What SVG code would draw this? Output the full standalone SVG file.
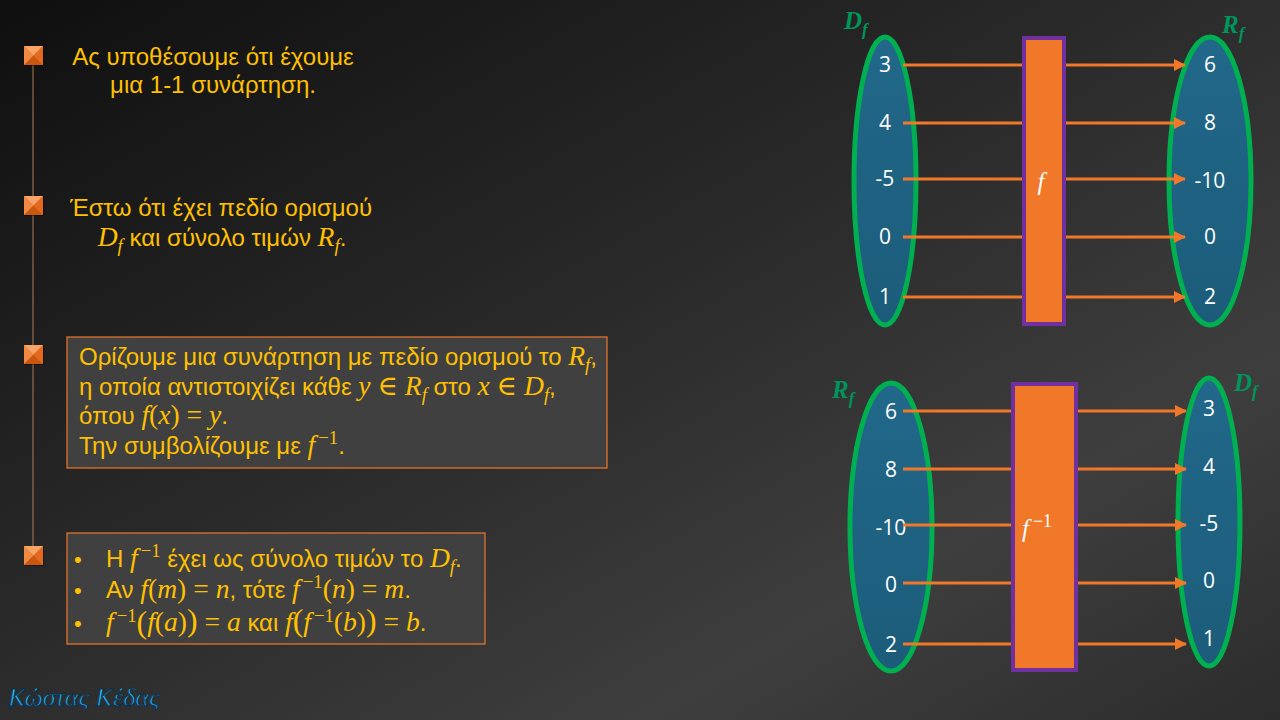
<svg xmlns="http://www.w3.org/2000/svg" width="1280" height="720" viewBox="0 0 1280 720">
<defs>
<linearGradient id="bg" x1="0" y1="0" x2="1" y2="1">
<stop offset="0" stop-color="#0f0f0f"/>
<stop offset="0.45" stop-color="#2a2a2a"/>
<stop offset="0.75" stop-color="#3e3e3e"/>
<stop offset="1" stop-color="#2c2c2c"/>
</linearGradient>
<linearGradient id="ell" x1="0" y1="0" x2="0" y2="1">
<stop offset="0" stop-color="#21688a"/>
<stop offset="1" stop-color="#1c5c7a"/>
</linearGradient>
<linearGradient id="sig" x1="0" y1="0" x2="0" y2="1">
<stop offset="0" stop-color="#40e0f0"/>
<stop offset="1" stop-color="#1a80e0"/>
</linearGradient>
<marker id="arr" markerWidth="12" markerHeight="12" refX="11" refY="6" orient="auto" markerUnits="userSpaceOnUse">
<path d="M0,0 L12,6 L0,12 Z" fill="#f07828"/>
</marker>
<g id="bul">
<rect x="1" y="1" width="19" height="19" fill="#000" opacity="0.35"/>
<rect x="0" y="0" width="19" height="19" fill="#ee7a30"/>
<polygon points="0,0 19,0 9.5,9.5" fill="#f7a468"/>
<polygon points="0,0 9.5,9.5 0,19" fill="#f08a42"/>
<polygon points="19,0 19,19 9.5,9.5" fill="#e2691e"/>
<polygon points="0,19 19,19 9.5,9.5" fill="#c9570f"/>
</g>
</defs>
<style>
.t{font-family:"Liberation Sans","Noto Sans",sans-serif;fill:#ffc000}
.m{font-family:"Liberation Serif","DejaVu Serif",serif;font-style:italic;font-size:115%}
.r{font-family:"Liberation Serif","DejaVu Serif",serif;font-size:115%}
.s{font-family:"Liberation Serif","DejaVu Serif",serif;font-style:italic;font-size:78%}
.p{font-family:"Liberation Serif","DejaVu Serif",serif;font-size:78%}
.b{font-family:"Liberation Serif","DejaVu Serif",serif;font-size:132%}
.n{font-family:"Open Sans","Liberation Sans",sans-serif;fill:#ffffff;font-size:21px;text-anchor:middle}
.box{fill:#404040;stroke:#f07828;stroke-width:1.2}
.ell{fill:url(#ell);stroke:#00b050;stroke-width:5}
.fx{fill:#f07828;stroke:#7030a0;stroke-width:4}
.lbl{font-family:"Liberation Serif","DejaVu Serif",serif;font-style:italic;font-weight:bold;fill:#00955a;font-size:25px}
.ln{stroke:#f07828;stroke-width:3;fill:none}
</style>
<rect width="1280" height="720" fill="url(#bg)"/>

<g id="timeline">
<line x1="33" y1="60" x2="33" y2="550" stroke="#b07a55" stroke-width="1"/>
<use href="#bul" x="24" y="46"/>
<use href="#bul" x="24" y="196"/>
<use href="#bul" x="24" y="345"/>
<use href="#bul" x="24" y="546"/>
</g>

<g id="text1">
<text class="t" font-size="24" x="213" y="65" text-anchor="middle">Ας υποθέσουμε ότι έχουμε</text>
<text class="t" font-size="24" x="213" y="93" text-anchor="middle">μια 1-1 συνάρτηση.</text>
</g>

<g id="text2">
<text class="t" font-size="24" x="221" y="216" text-anchor="middle">Έστω ότι έχει πεδίο ορισμού</text>
<text class="t" font-size="24" x="222" y="246" text-anchor="middle"><tspan class="m">D</tspan><tspan class="s" dy="6">f</tspan><tspan dy="-6"> και σύνολο τιμών </tspan><tspan class="m">R</tspan><tspan class="s" dy="6">f</tspan><tspan dy="-6">.</tspan></text>
</g>

<g id="box3">
<rect class="box" x="67" y="337" width="540" height="131"/>
<text class="t" font-size="24" x="79" y="365">Ορίζουμε μια συνάρτηση με πεδίο ορισμού το <tspan class="m">R</tspan><tspan class="s" dy="6">f</tspan><tspan dy="-6">,</tspan></text>
<text class="t" font-size="24" x="79" y="395">η οποία αντιστοιχίζει κάθε <tspan class="m">y ∈ R</tspan><tspan class="s" dy="6">f</tspan><tspan dy="-6"> στο </tspan><tspan class="m">x ∈ D</tspan><tspan class="s" dy="6">f</tspan><tspan dy="-6">,</tspan></text>
<text class="t" font-size="24" x="79" y="424">όπου <tspan class="m">f</tspan><tspan class="r">(</tspan><tspan class="m">x</tspan><tspan class="r">)  =  </tspan><tspan class="m">y</tspan>.</text>
<text class="t" font-size="24" x="79" y="454">Την συμβολίζουμε με <tspan class="m">f</tspan><tspan class="p" dx="3" dy="-10">−1</tspan><tspan dy="10">.</tspan></text>
</g>

<g id="box4">
<rect class="box" x="67" y="533" width="418" height="111"/>
<text class="t" font-size="22" x="74" y="567">•</text>
<text class="t" font-size="22" x="74" y="598">•</text>
<text class="t" font-size="22" x="74" y="631">•</text>
<text class="t" font-size="24" x="106" y="567">Η <tspan class="m">f</tspan><tspan class="p" dx="3" dy="-10">−1</tspan><tspan dy="10"> έχει ως σύνολο τιμών το </tspan><tspan class="m">D</tspan><tspan class="s" dy="6">f</tspan><tspan dy="-6">.</tspan></text>
<text class="t" font-size="24" x="106" y="598">Αν <tspan class="m">f</tspan><tspan class="r">(</tspan><tspan class="m">m</tspan><tspan class="r">)  =  </tspan><tspan class="m">n</tspan>, τότε <tspan class="m">f</tspan><tspan class="p" dx="3" dy="-10">−1</tspan><tspan class="r" dy="10">(</tspan><tspan class="m">n</tspan><tspan class="r">)  =  </tspan><tspan class="m">m</tspan>.</text>
<text class="t" font-size="24" x="106" y="631"><tspan class="m">f</tspan><tspan class="p" dx="3" dy="-9">−1</tspan><tspan class="b" dy="11">(</tspan><tspan class="m" dy="-2">f</tspan><tspan class="r">(</tspan><tspan class="m">a</tspan><tspan class="r">)</tspan><tspan class="b">)</tspan><tspan class="r">  =  </tspan><tspan class="m">a</tspan> και <tspan class="m">f</tspan><tspan class="b">(</tspan><tspan class="m">f</tspan><tspan class="p" dx="3" dy="-9">−1</tspan><tspan class="r" dy="9">(</tspan><tspan class="m">b</tspan><tspan class="r">)</tspan><tspan class="b">)</tspan><tspan class="r">  =  </tspan><tspan class="m">b</tspan>.</text>
</g>

<g id="signature">
<text x="8" y="706" font-family="Liberation Serif, serif" font-style="italic" font-size="26" fill="url(#sig)" stroke="#0b2f4a" stroke-width="0.8">Κώστας Κέδας</text>
</g>

<g id="top-domain">
<ellipse class="ell" cx="885" cy="181" rx="31" ry="144"/>
<text class="lbl" x="844" y="29">D<tspan font-size="17" dy="6">f</tspan></text>
<text class="n" x="885" y="72">3</text>
<text class="n" x="885" y="130">4</text>
<text class="n" x="885" y="186">-5</text>
<text class="n" x="885" y="244">0</text>
<text class="n" x="885" y="304">1</text>
</g>
<g id="top-f">
<rect class="fx" x="1024" y="38" width="40" height="286"/>
<text x="1041" y="190" font-family="Liberation Serif, serif" font-style="italic" font-size="25" fill="#fff" text-anchor="middle">f</text>
</g>
<g id="top-range">
<ellipse class="ell" cx="1210" cy="181" rx="41" ry="144"/>
<text class="lbl" x="1222" y="33">R<tspan font-size="17" dy="6">f</tspan></text>
<text class="n" x="1210" y="72">6</text>
<text class="n" x="1210" y="130">8</text>
<text class="n" x="1210" y="188">-10</text>
<text class="n" x="1210" y="244">0</text>
<text class="n" x="1210" y="304">2</text>
</g>

<g id="bot-domain">
<ellipse class="ell" cx="891" cy="527" rx="41" ry="144"/>
<text class="lbl" x="832" y="398">R<tspan font-size="17" dy="6">f</tspan></text>
<text class="n" x="891" y="419">6</text>
<text class="n" x="891" y="477">8</text>
<text class="n" x="891" y="535">-10</text>
<text class="n" x="891" y="592">0</text>
<text class="n" x="891" y="652">2</text>
</g>
<g id="bot-finv">
<rect class="fx" x="1013" y="384" width="63" height="286"/>
<text x="1022" y="537" font-family="Liberation Serif, serif" font-style="italic" font-size="25" fill="#fff">f<tspan font-style="normal" font-size="18" dx="4" dy="-10">−1</tspan></text>
</g>
<g id="bot-range">
<ellipse class="ell" cx="1209" cy="522" rx="31" ry="144"/>
<text class="lbl" x="1234" y="391">D<tspan font-size="17" dy="6">f</tspan></text>
<text class="n" x="1209" y="416">3</text>
<text class="n" x="1209" y="474">4</text>
<text class="n" x="1209" y="531">-5</text>
<text class="n" x="1209" y="588">0</text>
<text class="n" x="1209" y="646">1</text>
</g>

<g id="connectors">
<line class="ln" x1="903" y1="65" x2="1022" y2="65"/>
<line class="ln" x1="903" y1="123" x2="1022" y2="123"/>
<line class="ln" x1="903" y1="179" x2="1022" y2="179"/>
<line class="ln" x1="903" y1="237" x2="1022" y2="237"/>
<line class="ln" x1="903" y1="297" x2="1022" y2="297"/>
<line class="ln" x1="1066" y1="65" x2="1185" y2="65" marker-end="url(#arr)"/>
<line class="ln" x1="1066" y1="123" x2="1185" y2="123" marker-end="url(#arr)"/>
<line class="ln" x1="1066" y1="179" x2="1185" y2="179" marker-end="url(#arr)"/>
<line class="ln" x1="1066" y1="237" x2="1185" y2="237" marker-end="url(#arr)"/>
<line class="ln" x1="1066" y1="297" x2="1185" y2="297" marker-end="url(#arr)"/>
<line class="ln" x1="903" y1="411" x2="1011" y2="411"/>
<line class="ln" x1="903" y1="469" x2="1011" y2="469"/>
<line class="ln" x1="903" y1="525" x2="1011" y2="525"/>
<line class="ln" x1="903" y1="583" x2="1011" y2="583"/>
<line class="ln" x1="903" y1="644" x2="1011" y2="644"/>
<line class="ln" x1="1078" y1="411" x2="1186" y2="411" marker-end="url(#arr)"/>
<line class="ln" x1="1078" y1="469" x2="1186" y2="469" marker-end="url(#arr)"/>
<line class="ln" x1="1078" y1="525" x2="1186" y2="525" marker-end="url(#arr)"/>
<line class="ln" x1="1078" y1="583" x2="1186" y2="583" marker-end="url(#arr)"/>
<line class="ln" x1="1078" y1="644" x2="1186" y2="644" marker-end="url(#arr)"/>
</g>
</svg>
